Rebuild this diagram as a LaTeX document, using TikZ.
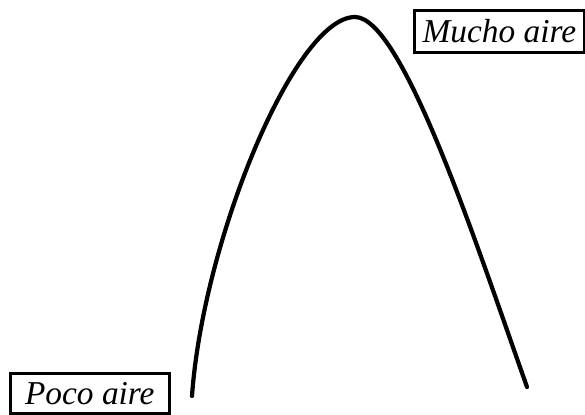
\documentclass[tikz,border=0pt]{standalone}
\usepackage{tikz}
\usepackage{fontspec}
\setmainfont{Liberation Serif}
\usetikzlibrary{positioning}
\tikzset{
  etiqueta/.style={draw, line width=1.5pt, inner sep=0pt, anchor=north west,
                   font=\fontsize{19}{22}\selectfont\itshape},
  curva/.style={line width=2.4pt, line cap=round},
}

\begin{document}
\begin{tikzpicture}[x=0.02cm, y=-0.02cm]
\useasboundingbox (0,0) rectangle (585,414);

% ========== ETIQUETAS ==========
\node[etiqueta, minimum width=170*0.02cm, minimum height=42*0.02cm] (mucho) at (413,9) {Mucho aire};
\node[etiqueta, minimum width=159*0.02cm, minimum height=40*0.02cm] (poco) at (9,372) {Poco aire};

% ========== CURVA ==========
\coordinate (izq) at (192,396);
\coordinate (cima) at (355,17);
\coordinate (der) at (527,387);
\draw[curva] (izq) .. controls (203,240) and (295,17) .. (cima)
                   .. controls (402,17) and (475,240) .. (der);

\end{tikzpicture}
\end{document}
